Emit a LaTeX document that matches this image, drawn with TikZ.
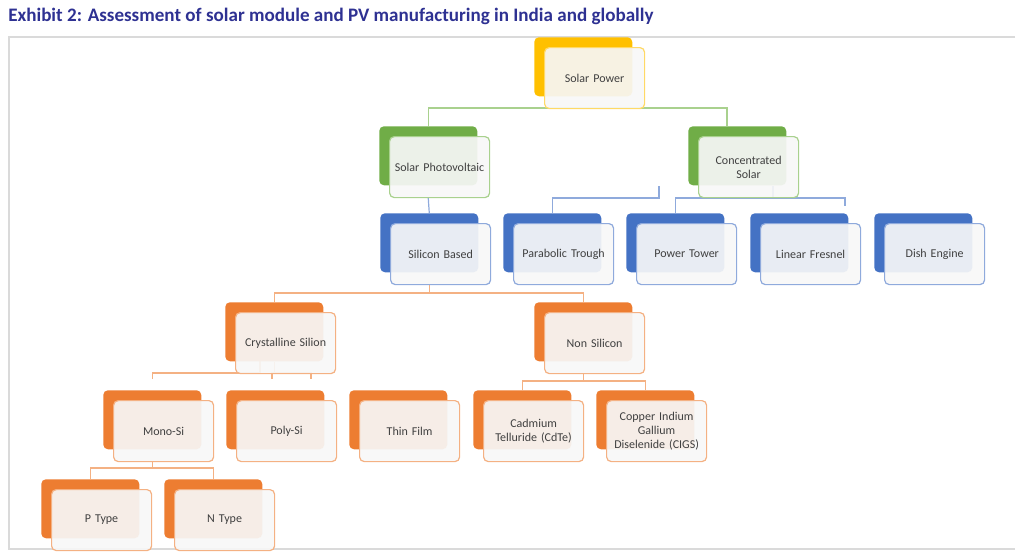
\documentclass[tikz,border=0pt]{standalone}
\usepackage{fontspec}
\setmainfont{Carlito}
\usetikzlibrary{backgrounds,calc}
\definecolor{yelB}{HTML}{FFC000}
\definecolor{yelL}{HTML}{FFD966}
\definecolor{grnB}{HTML}{70AD47}
\definecolor{grnL}{HTML}{A9D18E}
\definecolor{bluB}{HTML}{4472C4}
\definecolor{bluL}{HTML}{8FAADC}
\definecolor{orgB}{HTML}{ED7D31}
\definecolor{orgL}{HTML}{F4B183}
\definecolor{txt}{HTML}{404040}
\definecolor{ttl}{HTML}{2E3192}
\definecolor{frm}{HTML}{DADADA}
\newcommand{\mkunit}[6]{%
  \node[backbox=#4] (#1-b) at (#2,#3) {};
  \node[frontbox=#5] (#1) at (#2+10,#3+10) {#6};}
\begin{document}
\begin{tikzpicture}[x=0.75pt,y=-0.75pt,
  backbox/.style={draw=none, fill=#1, rounded corners=3.5pt, minimum width=73.5pt,
    minimum height=44.25pt, anchor=north west, inner sep=0pt},
  frontbox/.style={draw=#1, line width=0.9pt, fill=white!97!black, fill opacity=0.92,
    text opacity=1, rounded corners=3.5pt, minimum width=75pt, minimum height=45.75pt,
    anchor=north west, align=center, text=txt, font=\fontsize{9}{10.5}\selectfont,
    inner sep=1pt, text width=70pt},
  conn/.style={draw=#1, line width=0.9pt},
]
\useasboundingbox (0,0) rectangle (1024,557);
% frame
\draw[frm, line width=1.5pt] (1015,37) -- (9,37) -- (9,549) -- (1015,549);
% title
\node[anchor=base west, font=\fontsize{14.3}{16}\selectfont\bfseries, text=ttl, inner sep=0pt]
  (title) at (8,21) {Exhibit 2: Assessment of solar module and PV manufacturing in India and globally};
% boxes
\mkunit{sp}{534}{37}{yelB}{yelL}{Solar Power}
\mkunit{pv}{379}{126}{grnB}{grnL}{Solar Photovoltaic}
\mkunit{cs}{688}{126}{grnB}{grnL}{Concentrated\\Solar}
\mkunit{sb}{380}{213}{bluB}{bluL}{Silicon Based}
\mkunit{pt}{503}{213}{bluB}{bluL}{Parabolic Trough}
\mkunit{tw}{626}{213}{bluB}{bluL}{Power Tower}
\mkunit{lf}{750}{213}{bluB}{bluL}{Linear Fresnel}
\mkunit{de}{874}{213}{bluB}{bluL}{Dish Engine}
\mkunit{cr}{225}{302}{orgB}{orgL}{Crystalline Silion}
\mkunit{ns}{534}{302}{orgB}{orgL}{Non Silicon}
\mkunit{mo}{103}{390}{orgB}{orgL}{Mono-Si}
\mkunit{po}{226}{390}{orgB}{orgL}{Poly-Si}
\mkunit{tf}{349}{390}{orgB}{orgL}{Thin Film}
\mkunit{cd}{473}{390}{orgB}{orgL}{Cadmium\\Telluride (CdTe)}
\mkunit{ci}{596}{390}{orgB}{orgL}{Copper Indium\\Gallium\\Diselenide (CIGS)}
\mkunit{p}{41}{479}{orgB}{orgL}{P Type}
\mkunit{n}{164}{479}{orgB}{orgL}{N Type}
% connectors
\begin{scope}[on background layer]
  \coordinate (gbus) at (0,108);
  \coordinate (gr) at (727,108);
  \draw[conn=grnL] (sp-b.center |- sp.south) -- (sp-b.center |- gbus);
  \draw[conn=grnL] (pv-b.north) -- (pv-b.north |- gbus) -- (gr) -- (gr |- cs-b.north);
  % blue
  \draw[conn=bluL] (pv-b.center |- pv.south) -- (sb-b.north);
  \coordinate (cbus) at (0,198);
  \coordinate (cA) at (659,186);
  \coordinate (cB) at (845,206);
  \coordinate (cC) at (773,186);
  \draw[conn=bluL] (pt-b.north) -- (pt-b.north |- cbus) -| (cA);
  \draw[conn=bluL] (tw-b.north) -- (tw-b.north |- cbus) -| (cB);
  \draw[conn=bluL] (cC) -- (cC |- cbus);
  % orange
  \coordinate (ob1) at (0,293);
  \draw[conn=orgL] (sb-b.center |- sb.south) -- (sb-b.center |- ob1);
  \draw[conn=orgL] (cr-b.north) -- (cr-b.north |- ob1) -| (ns-b.north);
  \coordinate (ob2) at (0,373);
  \coordinate (oA) at (260,361);
  \coordinate (oB) at (311,379);
  \coordinate (oC) at (272,379);
  \draw[conn=orgL] ($(mo-b.north)+(0,-11)$) -- (mo-b.north |- ob2) -| (oA);
  \draw[conn=orgL] (oC) -- (oC |- ob2) -| (oB);
  \draw[conn=orgL] (cr-b.south) -- (cr-b.south |- ob2);
  \coordinate (ob3) at (0,381);
  \draw[conn=orgL] (ns-b.center |- ns.south) -- (ns-b.center |- ob3);
  \draw[conn=orgL] (cd-b.north) -- (cd-b.north |- ob3) -| (ci-b.north);
  \coordinate (ob4) at (0,468);
  \draw[conn=orgL] (mo-b.center |- mo.south) -- (mo-b.center |- ob4);
  \draw[conn=orgL] (p-b.north) -- (p-b.north |- ob4) -| (n-b.north);
\end{scope}
\end{tikzpicture}
\end{document}
